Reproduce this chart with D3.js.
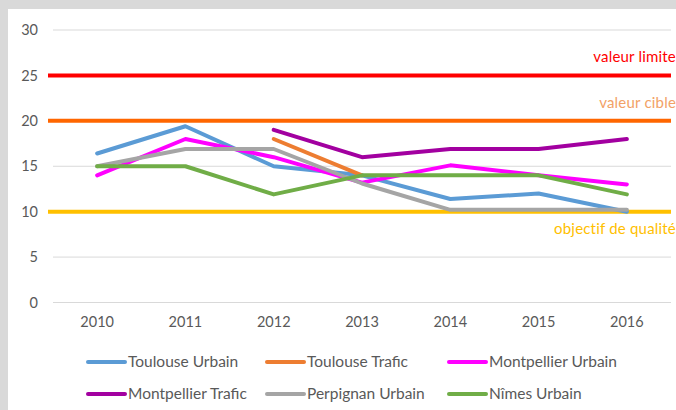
<!DOCTYPE html>
<html>
<head>
<meta charset="utf-8">
<script src="https://cdn.jsdelivr.net/npm/d3@7"></script>
<style>
  body { margin: 0; background: #d9d9d9; }
  svg { display: block; font-family: Lato, "Open Sans", sans-serif; }
</style>
</head>
<body>
<div id="chart"></div>
<script>
var years = ["2010", "2011", "2012", "2013", "2014", "2015", "2016"];
var yTicks = [0, 5, 10, 15, 20, 25, 30];

var toulouseUrbain = [16.4, 19.4, 15, 14, 11.4, 12, 10];
var toulouseTrafic = [null, null, 18, 14, null, null, null];
var montpellierUrbain = [14, 18, 16, 13.2, 15.1, 14, 13];
var montpellierTrafic = [null, null, 19, 16, 16.9, 16.9, 18];
var perpignanUrbain = [15, 16.9, 16.9, 13.1, 10.2, 10.2, 10.2];
var nimesUrbain = [15, 15, 11.9, 14, 14, 14, 11.9];

var seriesNames = ["Toulouse Urbain", "Toulouse Trafic", "Montpellier Urbain",
                   "Montpellier Trafic", "Perpignan Urbain", "Nîmes Urbain"];
var seriesValues = [toulouseUrbain, toulouseTrafic, montpellierUrbain,
                    montpellierTrafic, perpignanUrbain, nimesUrbain];
var seriesColors = ["#5b9bd5", "#ed7d31", "#ff00ff", "#a200a0", "#a5a5a5", "#70ad47"];

var refLabels = ["valeur limite", "valeur cible", "objectif de qualité"];
var refValues = [25, 20, 10];
var refColors = ["#ff0000", "#ff6600", "#ffc000"];
var refTextColors = ["#ff0000", "#f2a266", "#ffc000"];

var W = 676, H = 410;

var svg = d3.select("#chart").append("svg")
    .attr("width", W)
    .attr("height", H);

// gray frame, white chart area
svg.append("rect").attr("width", W).attr("height", H).attr("fill", "#d9d9d9");
svg.append("rect").attr("x", 8).attr("y", 9).attr("width", W - 8).attr("height", H - 9)
    .attr("fill", "#ffffff");

var x = d3.scaleBand().domain(years).range([53, 671]);
var y = d3.scaleLinear().domain([0, 30]).range([302.5, 30]);

// gridlines
svg.append("g")
    .selectAll("line")
    .data(yTicks)
  .join("line")
    .attr("x1", x.range()[0])
    .attr("x2", x.range()[1])
    .attr("y1", function(d){ return y(d); })
    .attr("y2", function(d){ return y(d); })
    .attr("stroke", "#d9d9d9")
    .attr("stroke-width", 1);

// y axis labels
var yAxis = d3.axisLeft(y).tickValues(yTicks).tickSize(0).tickPadding(0);
var gy = svg.append("g")
    .attr("transform", "translate(38,0)")
    .call(yAxis);
gy.select(".domain").remove();
gy.selectAll("text")
    .attr("fill", "#595959")
    .style("font-size", "14.5px")
    .style("font-family", "Lato, sans-serif");

// x axis labels
var xAxis = d3.axisBottom(x).tickSize(0).tickPadding(0);
var gx = svg.append("g")
    .attr("transform", "translate(0,317)")
    .call(xAxis);
gx.select(".domain").remove();
gx.selectAll("text")
    .attr("fill", "#595959")
    .style("font-size", "14.5px")
    .style("font-family", "Lato, sans-serif");

// reference lines
var refG = svg.append("g");
refValues.forEach(function(v, i){
    refG.append("line")
        .attr("x1", x.range()[0] - 5)
        .attr("x2", x.range()[1])
        .attr("y1", y(v))
        .attr("y2", y(v))
        .attr("stroke", refColors[i])
        .attr("stroke-width", 4);
    refG.append("text")
        .attr("x", W)
        .attr("y", i === 2 ? y(v) + 22 : y(v) - 13)
        .attr("text-anchor", "end")
        .attr("fill", refTextColors[i])
        .style("font-size", "15px")
        .style("letter-spacing", "0.2px")
        .text(refLabels[i]);
});

// series lines
var line = d3.line()
    .defined(function(d){ return d != null; })
    .x(function(d, i){ return x(years[i]) + x.bandwidth() / 2; })
    .y(function(d){ return y(d); });

svg.append("g")
    .selectAll("path")
    .data(seriesValues)
  .join("path")
    .attr("d", line)
    .attr("fill", "none")
    .attr("stroke", function(d, i){ return seriesColors[i]; })
    .attr("stroke-width", 4)
    .attr("stroke-linejoin", "round")
    .attr("stroke-linecap", "round");

// legend
var legX = [86, 265, 447], legY = [362, 394];
var leg = svg.append("g")
    .selectAll("g")
    .data(seriesNames)
  .join("g")
    .attr("transform", function(d, i){
        return "translate(" + legX[i % 3] + "," + legY[Math.floor(i / 3)] + ")";
    });
leg.append("line")
    .attr("x1", 2).attr("x2", 39)
    .attr("stroke", function(d, i){ return seriesColors[i]; })
    .attr("stroke-width", 4)
    .attr("stroke-linecap", "round");
leg.append("text")
    .attr("x", 42)
    .attr("dy", "0.35em")
    .attr("fill", "#595959")
    .style("font-size", "15.5px")
    .text(function(d){ return d; });
</script>
</body>
</html>
